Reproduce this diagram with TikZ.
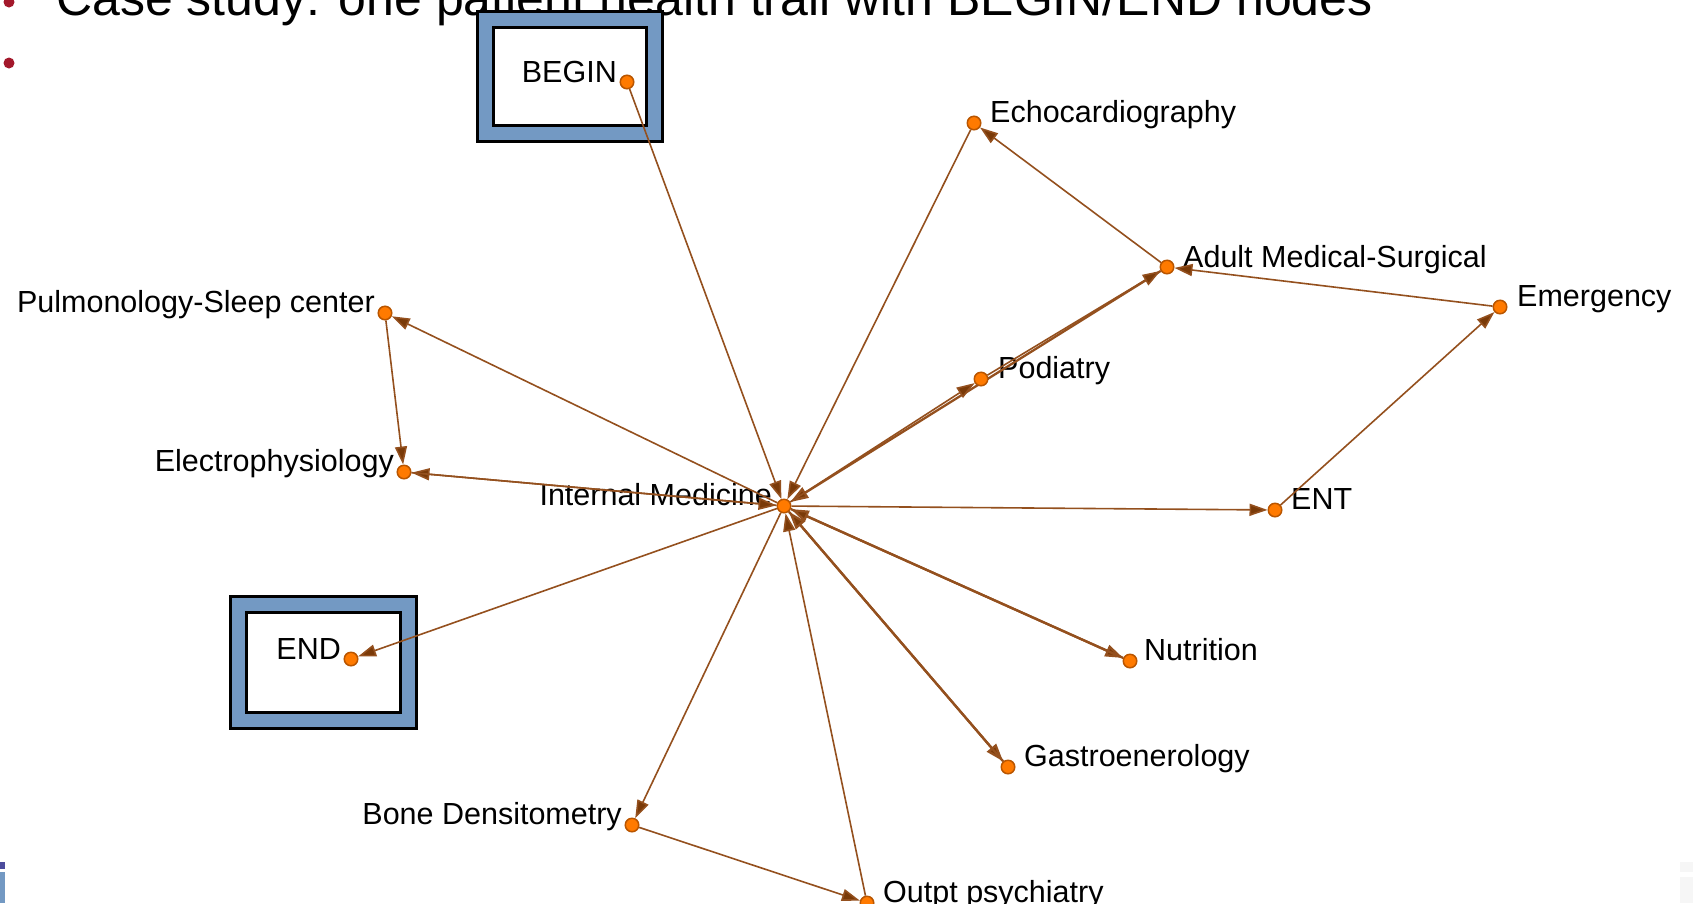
\documentclass[tikz,border=0pt]{standalone}
\usepackage{fontspec}
\setmainfont{Liberation Sans}
\usetikzlibrary{arrows.meta}
\definecolor{edgebrown}{HTML}{94501E}
\definecolor{tipbrown}{HTML}{7A3A08}
\definecolor{dotorange}{HTML}{FF7A00}
\definecolor{dotedge}{HTML}{B85500}
\definecolor{frameblue}{HTML}{7399C3}
\definecolor{bulletred}{HTML}{A3182B}
\tikzset{
  dot/.style={circle,fill=dotorange,draw=dotedge,line width=1pt,minimum size=14pt,inner sep=0pt},
  lblR/.style={anchor=base west,inner sep=0pt,font=\fontsize{30.5}{31}\selectfont},
  lblL/.style={anchor=base east,inner sep=0pt,font=\fontsize{30.5}{31}\selectfont},
  edge/.style={draw=edgebrown,line width=1.6pt,-{Triangle[length=18pt,width=12pt,fill=tipbrown]}},
  edgethick/.style={edge,line width=2.3pt},
  outerframe/.style={fill=frameblue,draw=black,line width=3pt},
  innerframe/.style={fill=white,draw=black,line width=3pt}
}
\begin{document}
\begin{tikzpicture}[x=1pt,y=-1pt]
\useasboundingbox (0,0) rectangle (1693,903);
\fill[white] (0,0) rectangle (1693,903);
% title (cut off at top)
\node[anchor=base west,inner sep=0pt,font=\fontsize{50}{50}\selectfont] (title) at (56,15) {Case study: one patient health trail with BEGIN/END nodes};
\fill[bulletred] (9,2) circle (5.5);
\fill[bulletred] (9,63) circle (5.5);
% frames
\draw[outerframe] (477,11) rectangle (662,141);
\draw[innerframe] (493,27) rectangle (646,125);
\draw[outerframe] (230,596) rectangle (416,728);
\draw[innerframe] (246,612) rectangle (400,712);
% corner marks
\fill[blue!45!black!70] (0,862) rectangle (5,869);
\fill[frameblue] (0,872) rectangle (5,903);
\fill[gray!7] (1680,862) rectangle (1693,872);
\fill[gray!7] (1680,877) rectangle (1693,903);
% nodes
\node[dot] (begin) at (627,82) {};
\node[dot] (im) at (784,506) {};
\node[dot] (echo) at (974,123) {};
\node[dot] (adult) at (1167,267) {};
\node[dot] (emer) at (1500,307) {};
\node[dot] (pod) at (981,379) {};
\node[dot] (pulm) at (385,313) {};
\node[dot] (elec) at (404,472) {};
\node[dot] (ent) at (1275,510) {};
\node[dot] (nut) at (1130,661) {};
\node[dot] (gas) at (1008,767) {};
\node[dot] (bone) at (632,825) {};
\node[dot] (outp) at (867,903) {};
\node[dot] (end) at (351,659) {};
% labels
\node[lblL] (beginL) at (617,82) {BEGIN};
\node[lblL] (endL) at (341,659) {END};
\node[lblL] (imL) at (772,505) {Internal Medicine};
\node[lblR] (echoL) at (990,122) {Echocardiography};
\node[lblR] (adultL) at (1183,267) {Adult Medical-Surgical};
\node[lblR] (emerL) at (1517,306) {Emergency};
\node[lblR] (podL) at (998,378) {Podiatry};
\node[lblL] (pulmL) at (375,312) {Pulmonology-Sleep center};
\node[lblL] (elecL) at (394,471) {Electrophysiology};
\node[lblR] (entL) at (1291,509) {ENT};
\node[lblR] (nutL) at (1144,660) {Nutrition};
\node[lblR] (gasL) at (1024,766) {Gastroenerology};
\node[lblL] (boneL) at (622,824) {Bone Densitometry};
\node[lblR] (outpL) at (883,902) {Outpt psychiatry};
% edges
\draw[edge] (begin) -- (im);
\draw[edge] (echo) -- (im);
\draw[edge] (adult) -- (echo);
\draw[edge] (emer) -- (adult);
\draw[edge] (ent) -- (emer);
\draw[edge] (im) -- (ent);
\draw[edgethick] (adult) -- (im);
\draw[edge] (im) -- (pod);
\draw[edge] (pod) -- (adult);
\draw[edge] (im) -- (pulm);
\draw[edge] (pulm) -- (elec);
\draw[edge] (im) -- (elec);
\draw[edge] (elec) -- (im);
\draw[edge] (im) -- (end);
\draw[edgethick] (im) -- (nut);
\draw[edgethick] (nut) -- (im);
\draw[edgethick] (im) -- (gas);
\draw[edgethick] (gas) -- (im);
\draw[edge] (outp) -- (im);
\draw[edge] (im) -- (bone);
\draw[edge] (bone) -- (outp);
% redraw dots on top
\foreach \p in {{627,82},{784,506},{974,123},{1167,267},{1500,307},{981,379},{385,313},{404,472},{1275,510},{1130,661},{1008,767},{632,825},{867,903},{351,659}}
  \fill[dotorange,draw=dotedge,line width=1pt] (\p) circle (6.5);
\end{tikzpicture}
\end{document}
